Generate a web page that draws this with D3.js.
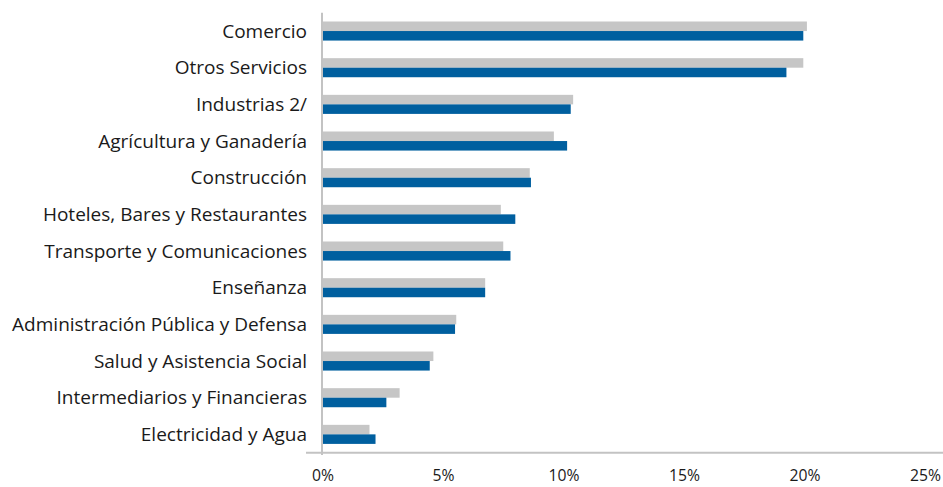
<!DOCTYPE html>
<html>
<head>
<meta charset="utf-8">
<script src="https://cdn.jsdelivr.net/npm/d3@7"></script>
<style>
  html, body { margin: 0; padding: 0; background: #ffffff; }
  svg { display: block; }
  text { font-family: "Open Sans", Lato, sans-serif; fill: #1a1a1a; }
</style>
</head>
<body>
<svg id="chart" width="943" height="487"></svg>
<script>
const categories = [
  "Comercio",
  "Otros Servicios",
  "Industrias 2/",
  "Agrícultura y Ganadería",
  "Construcción",
  "Hoteles, Bares y Restaurantes",
  "Transporte y Comunicaciones",
  "Enseñanza",
  "Administración Pública y Defensa",
  "Salud y Asistencia Social",
  "Intermediarios y Financieras",
  "Electricidad y Agua"
];
const seriesGray = [20.1, 19.95, 10.4, 9.6, 8.6, 7.4, 7.5, 6.75, 5.55, 4.6, 3.2, 1.95];
const seriesBlue = [19.95, 19.25, 10.3, 10.15, 8.65, 8.0, 7.8, 6.75, 5.5, 4.45, 2.65, 2.2];
const tickValues = [0, 5, 10, 15, 20, 25];
const tickLabels = ["0%", "5%", "10%", "15%", "20%", "25%"];

const svg = d3.select("#chart");
const x = d3.scaleLinear().domain([0, 25]).range([322.5, 925]);
const y = d3.scaleBand().domain(categories).range([12.7, 452.7]).paddingInner(0.48).paddingOuter(0.24);
const sub = d3.scaleBand().domain(["gray", "blue"]).range([0, y.bandwidth()]);

// bars
const g = svg.append("g");
categories.forEach((c, i) => {
  g.append("rect")
    .attr("x", x(0))
    .attr("y", y(c) + sub("gray"))
    .attr("width", x(seriesGray[i]) - x(0))
    .attr("height", sub.bandwidth())
    .attr("fill", "#c6c6c6");
  g.append("rect")
    .attr("x", x(0))
    .attr("y", y(c) + sub("blue"))
    .attr("width", x(seriesBlue[i]) - x(0))
    .attr("height", sub.bandwidth())
    .attr("fill", "#005f9f");
});

// axis lines
svg.append("line").attr("x1", 306).attr("x2", 943).attr("y1", 452.7).attr("y2", 452.7)
  .attr("stroke", "#c3c3c3").attr("stroke-width", 2);
svg.append("line").attr("x1", 322).attr("x2", 322).attr("y1", 12.7).attr("y2", 455)
  .attr("stroke", "#c3c3c3").attr("stroke-width", 2);

// category labels
const labels = svg.append("g").selectAll("text").data(categories).join("text")
  .attr("x", 307)
  .attr("y", d => y(d) + y.bandwidth() / 2)
  .attr("dy", "0.35em")
  .attr("text-anchor", "end")
  .style("font-size", "17px")
  .text(d => d);
// fit longest label to the reference width
const longest = labels.filter(d => d === "Administración Pública y Defensa").node();
const w = longest.getComputedTextLength();
const fs = 17 * 295 / w;
labels.style("font-size", fs + "px");

// tick labels
const xAxis = d3.axisBottom(x).tickValues(tickValues).tickFormat((d, i) => tickLabels[i]).tickSize(0).tickPadding(0);
const ax = svg.append("g").attr("transform", "translate(0,470)").call(xAxis);
ax.select(".domain").remove();
ax.selectAll("text").attr("font-family", null).attr("fill", "#1a1a1a").style("font-size", "15px");
const t10 = ax.selectAll("text").filter((d, i) => i === 2).node();
const tfs = 15 * 31 / t10.getComputedTextLength();
ax.selectAll("text").style("font-size", tfs + "px");
</script>
</body>
</html>
